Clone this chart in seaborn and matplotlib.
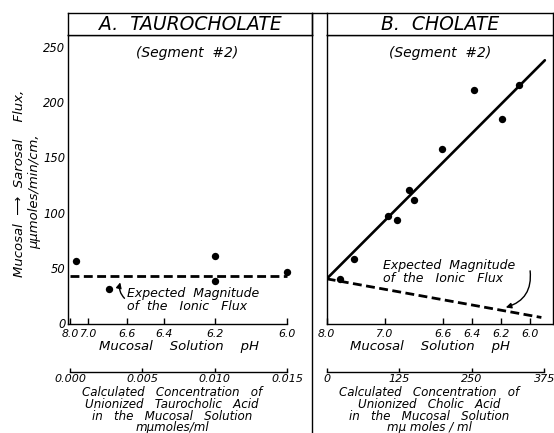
import matplotlib
matplotlib.use("Agg")
import matplotlib.pyplot as plt
import seaborn as sns
import pandas as pd
from matplotlib.lines import Line2D

# ---------------- data ----------------
# Panel A: taurocholate (x = calculated unionized concentration, mμmoles/ml)
tauro_conc = [0.0004, 0.0027, 0.0100, 0.0100, 0.0150]
tauro_flux = [56.6, 30.7, 60.8, 38.0, 46.6]
tauro_ionic_x = [0.0, 0.0150]
tauro_ionic_y = [42.7, 42.7]
tauro_ph_pos = [0.0, 0.00126, 0.0039, 0.0065, 0.0100, 0.0150]
tauro_ph_lab = ["8.0", "7.0", "6.6", "6.4", "6.2", "6.0"]
tauro_conc_ticks = [0.000, 0.005, 0.010, 0.015]
tauro_conc_lab = ["0.000", "0.005", "0.010", "0.015"]

# Panel B: cholate
chol_conc = [23.4, 46.5, 106.2, 121.1, 141.3, 149.6, 198.2, 254.4, 301.6, 330.9]
chol_flux = [39.8, 57.8, 97.3, 93.4, 120.5, 111.4, 157.3, 210.6, 184.4, 215.4]
chol_fit_x = [0.0, 376.0]
chol_fit_y = [40.3, 237.7]
chol_ionic_x = [0.0, 370.0]
chol_ionic_y = [40.3, 5.4]
chol_ph_pos = [0, 100, 200, 250, 300, 350]
chol_ph_lab = ["8.0", "7.0", "6.6", "6.4", "6.2", "6.0"]
chol_conc_ticks = [0, 125, 250, 375]
chol_conc_lab = ["0", "125", "250", "375"]

y_ticks = [0, 50, 100, 150, 200, 250]

# ---------------- style ----------------
sns.set_theme(style="white")
plt.rcParams["font.family"] = ["DejaVu Sans"]
plt.rcParams["font.style"] = "italic"
for k in ("text.color", "axes.labelcolor", "xtick.color", "ytick.color", "axes.edgecolor"):
    plt.rcParams[k] = "black"
FS_Y = 8.3
FS_PH = 7.8
FS_C = 8.0
W, H = 554.0, 433.0

fig = plt.figure(figsize=(5.54, 4.33), dpi=100)


def fx(px):
    return px / W


def fy(py):
    return (H - py) / H


top_px, ax_top_px, ax_bot_px = 13.3, 34.7, 324.0
axA = fig.add_axes([fx(68.3), fy(ax_bot_px), fx(311.7 - 68.3), (ax_bot_px - ax_top_px) / H])
axB = fig.add_axes([fx(326.7), fy(ax_bot_px), fx(552.7 - 326.7), (ax_bot_px - ax_top_px) / H])

lw = 1.0
for ax in (axA, axB):
    ax.set_facecolor("white")
    for s in ax.spines.values():
        s.set_color("black")
        s.set_linewidth(lw)
    ax.set_ylim(-0.5, 260.8)
    ax.set_yticks(y_ticks)
    ax.tick_params(axis="both", direction="in", length=4, width=lw, colors="black")
    ax.tick_params(axis="y", labelsize=FS_Y, pad=2.0)
    ax.tick_params(axis="x", labelsize=FS_PH, pad=3.9)

# ---------- Panel A ----------
axA.set_xlim(-0.00012, 0.01669)
dfA = pd.DataFrame({"conc": tauro_conc, "flux": tauro_flux})
sns.scatterplot(data=dfA, x="conc", y="flux", ax=axA, color="black", s=28,
                edgecolor="black", linewidth=0, zorder=3)
axA.plot(tauro_ionic_x, tauro_ionic_y, color="black", lw=2.0, ls=(0, (3.2, 1.6)))
axA.set_xticks(tauro_ph_pos)
axA.set_xticklabels(tauro_ph_lab)
axA.set_yticklabels([str(v) for v in y_ticks])
axA.spines["right"].set_visible(False)
axA.spines["bottom"].set_bounds(-0.00012, 0.0150)
axA.set_xlabel("")
axA.set_ylabel("")

axA2 = axA.twiny()
axA2.set_xlim(axA.get_xlim())
axA2.xaxis.set_ticks_position("bottom")
axA2.xaxis.set_label_position("bottom")
axA2.spines["bottom"].set_position(("outward", 34.2))
for k in ("top", "left", "right"):
    axA2.spines[k].set_visible(False)
axA2.spines["bottom"].set_bounds(0.0, 0.0150)
axA2.spines["bottom"].set_linewidth(lw)
axA2.spines["bottom"].set_color("black")
axA2.set_xticks(tauro_conc_ticks)
axA2.set_xticklabels(tauro_conc_lab)
axA2.tick_params(axis="x", direction="in", length=3, width=lw, labelsize=FS_C, pad=1.5)

# annotation A
FS_A = 9.0
axA.text(0.0039, 21.2, "Expected  Magnitude\nof  the   Ionic   Flux", fontsize=FS_A,
         va="center", ha="left", linespacing=0.95)
axA.annotate("", xy=(0.00352, 39.5), xytext=(0.0039, 21.0),
             arrowprops=dict(arrowstyle="-|>", color="black", lw=1.0,
                             connectionstyle="arc3,rad=-0.35", mutation_scale=8))

# ---------- Panel B ----------
axB.set_xlim(0, 389.5)
dfB = pd.DataFrame({"conc": chol_conc, "flux": chol_flux})
sns.scatterplot(data=dfB, x="conc", y="flux", ax=axB, color="black", s=28,
                edgecolor="black", linewidth=0, zorder=3)
dfFit = pd.DataFrame({"x": chol_fit_x, "y": chol_fit_y})
sns.lineplot(data=dfFit, x="x", y="y", ax=axB, color="black", lw=1.9)
axB.plot(chol_ionic_x, chol_ionic_y, color="black", lw=2.0, ls=(0, (3.2, 1.6)))
axB.set_xticks(chol_ph_pos)
axB.set_xticklabels(chol_ph_lab)
axB.set_yticklabels([])
axB.set_xlabel("")
axB.set_ylabel("")

axB2 = axB.twiny()
axB2.set_xlim(axB.get_xlim())
axB2.xaxis.set_ticks_position("bottom")
axB2.spines["bottom"].set_position(("outward", 34.2))
for k in ("top", "left", "right"):
    axB2.spines[k].set_visible(False)
axB2.spines["bottom"].set_bounds(0, 375)
axB2.spines["bottom"].set_linewidth(lw)
axB2.spines["bottom"].set_color("black")
axB2.set_xticks(chol_conc_ticks)
axB2.set_xticklabels(chol_conc_lab)
axB2.tick_params(axis="x", direction="in", length=3, width=lw, labelsize=FS_C, pad=1.5)

axB.text(96.5, 46.6, "Expected  Magnitude\nof  the   Ionic   Flux", fontsize=FS_A,
         va="center", ha="left", linespacing=0.95)
axB.annotate("", xy=(304, 13.8), xytext=(350, 50),
             arrowprops=dict(arrowstyle="-|>", color="black", lw=1.0,
                             connectionstyle="arc3,rad=-0.45", mutation_scale=8))

# ---------- headers ----------
for x0, x1, title in ((68.3, 311.7, "A.  TAUROCHOLATE"), (326.7, 552.7, "B.  CHOLATE")):
    hax = fig.add_axes([fx(x0), fy(ax_top_px), fx(x1 - x0), (ax_top_px - top_px) / H])
    hax.set_xticks([]); hax.set_yticks([])
    hax.set_facecolor("white")
    for s in hax.spines.values():
        s.set_color("black"); s.set_linewidth(lw)
    hax.text(0.5, 0.47, title, fontsize=13.5, ha="center", va="center", transform=hax.transAxes)

# top border line between panels and divider
fig.add_artist(Line2D([fx(311.7), fx(326.7)], [fy(top_px), fy(top_px)], color="black", lw=lw))
fig.add_artist(Line2D([fx(311.7), fx(311.7)], [fy(top_px), 0.0], color="black", lw=lw))

# segment labels
fig.text(fx(187), fy(52.7), "(Segment  #2)", fontsize=10, ha="center", va="center")
fig.text(fx(440), fy(52.7), "(Segment  #2)", fontsize=10, ha="center", va="center")

# x labels
fig.text(fx(179), fy(346.5), "Mucosal    Solution    pH", fontsize=9.5, ha="center", va="center")
fig.text(fx(430), fy(346.5), "Mucosal    Solution    pH", fontsize=9.5, ha="center", va="center")

concA = ["Calculated   Concentration   of", "Unionized   Taurocholic   Acid",
         "in   the   Mucosal   Solution", "mμmoles/ml"]
concB = ["Calculated   Concentration   of", "Unionized   Cholic   Acid",
         "in   the   Mucosal   Solution", "mμ moles / ml"]
fig.text(fx(172), fy(410.3), "\n".join(concA), fontsize=8.6, ha="center", va="center",
         multialignment="center", linespacing=0.86)
fig.text(fx(429), fy(410.3), "\n".join(concB), fontsize=8.6, ha="center", va="center",
         multialignment="center", linespacing=0.86)

# y label
fig.text(fx(20), fy(183.5), "Mucosal  \u27f6  Sarosal    Flux,", fontsize=9.5,
         rotation=90, ha="center", va="center")
fig.text(fx(35), fy(192), "μμmoles/min/cm,", fontsize=9.5,
         rotation=90, ha="center", va="center")

fig.savefig("out.png", dpi=100, facecolor="white")
